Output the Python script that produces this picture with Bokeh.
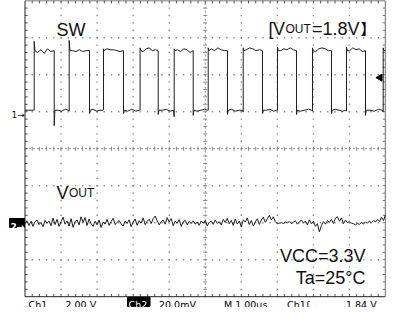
import numpy as np
from bokeh.plotting import figure
from bokeh.models import Range1d
from bokeh.core.properties import value
from bokeh.embed import file_html
from bokeh.resources import INLINE

# ---------------- data ----------------
# Ch1 (SW), 2.00 V/div, ground 1 div above centre; time 1.00 us/div
sw_rise_us = [0.255, 1.226, 2.178, 3.193, 4.139, 5.082, 6.053, 7.004, 7.975, 8.918, 9.936]
sw_fall_us = [0.810, 1.789, 2.732, 3.695, 4.666, 5.617, 6.588, 7.531, 8.502, 9.445]
sw_high_v = 3.30
sw_low_v = 0.08
sw_rise_peak_v = [3.80, 3.85, 3.40, 3.45, 3.40, 3.45, 3.45, 3.50, 3.45, 3.50, 3.45]
sw_fall_dip_v = [-0.75, -0.10, -0.10, -0.15, -0.20, -0.15, -0.10, -0.15, -0.10, -0.20]
sw_prerise_v = [0.00, -0.05, 0.05, 0.00, -0.35, 0.00, -0.10, 0.00, -0.05, -0.05, -0.10]
sw_high_ripple_v = [
    [-0.10, 0.05, -0.15, 0.10, -0.05],
    [0.00, -0.05, 0.05, -0.05, 0.00],
    [0.10, 0.05, 0.05, 0.00, -0.05],
    [-0.05, 0.10, 0.15, 0.00, 0.05],
    [0.05, -0.05, 0.10, 0.05, -0.10],
    [0.10, 0.00, 0.15, 0.05, 0.00],
    [0.05, 0.15, 0.10, 0.00, 0.05],
    [0.00, 0.10, 0.05, 0.15, 0.05],
    [-0.05, 0.10, 0.15, 0.10, 0.00],
    [0.00, 0.15, 0.05, 0.10, -0.05],
    [],
]
sw_low_ripple_v = [
    [0.00, -0.05, 0.05],
    [0.05, -0.05, 0.00],
    [-0.05, 0.05, -0.05],
    [0.00, 0.05, -0.05],
    [-0.05, 0.00, 0.05],
    [0.05, -0.05, 0.00],
    [0.00, 0.05, -0.05],
    [-0.05, 0.00, 0.05],
    [0.05, 0.00, -0.05],
    [0.00, -0.05, 0.05],
]
trigger_level_v = 1.84

# Ch2 (VOUT ripple), 20.0 mV/div, ground 2 div below centre
vout_mv = [
    -0.5, 1.0, -1.5, 0.8, -2.0, 0.5, 1.5, -1.0, 0.2, -2.2, 1.2, -0.3, 0.8, -1.6,
    2.5, -1.0, 1.8, -2.0, 0.5, 3.0, -0.8, 1.0, -1.8, 2.2, -2.5, 0.6, 1.5, -1.2, 3.2, 0.2, 2.8, -1.5, 2.0, -0.5,
    -2.0, 0.8, -1.2, 1.5, -2.6, 0.4, -0.8, 1.8, -1.5, 0.6, 2.4, -1.0, 0.2, 1.2, -0.6,
    -1.8, 0.9, -0.4, 1.6, -2.2, 0.3, 2.0, -1.4, 1.1, -0.2, 2.6, -1.0, 0.8, 1.9, -0.5, 2.2, 3.6, 1.0,
    -1.2, 0.6, 1.4, -0.8, 2.8, 0.4, 2.2, -1.6, 0.9, -0.3, 1.7, -2.0, 0.5, 1.2, -1.1, 0.7, -0.4, 1.0,
    -0.8, 0.4, -1.4, 0.9, -0.3, 1.2, -1.7, 0.2, 0.8, -0.9, 1.5, -0.4, 0.6, -1.2, 1.8, 0.1, 2.4, -0.6,
    1.3, -1.5, 2.0, -0.7, 0.9, -2.3, 1.6, 0.3, 2.6, -1.0, 1.2, -1.8, 0.5, 2.1, -0.9, 1.4, 3.0, 0.2, 2.2, 4.0, 1.5, 3.2,
    0.5, -0.6, -0.2, 0.0, -0.4, 0.3, -0.1, 0.6, -0.5, 0.2, 1.0, -0.8, 0.4, 1.5, -0.3,
    0.9, -1.2, 1.6, -0.6, 0.8, -2.0, -0.5, -5.0, -1.5, 0.6,
    -0.8, 1.2, 0.2, 1.8, -0.4, 2.5, 3.2, 0.8, 2.6, -0.5, 1.4, 0.0, 0.7, -0.3, -0.6,
    -1.2, -0.4, -0.9, 0.2, -0.6, 0.3, -0.2, 0.8, 0.1, 1.2,
    0.4, 1.8, 0.6, 3.0, 1.2, 4.2,
]

ch1_volts_per_div = 2.0
ch1_ground_div = 1.0
ch2_mv_per_div = 20.0
ch2_ground_div = -2.0
time_per_div_us = 1.0

status_labels = ["Ch1", "2.00 V", "Ch2", "20.0mV", "M 1.00\u00b5s", "Ch1", "\u0283", "1.84 V"]

# ---------------- layout helpers (page pixels -> divisions) ----------------
LEFT_PX, PXDIV_X = 32.5, 36.05
CENTER_PY, PXDIV_Y = 156.2, 37.0
W, H = 386, 307


def xd(px):
    return (px - LEFT_PX) / PXDIV_X


def yd(py):
    return (CENTER_PY - py) / PXDIV_Y


y0, y1 = yd(8 + H), yd(8)
p = figure(width=W, height=H, output_backend="svg", toolbar_location=None,
           title_location=None,
           x_range=Range1d(xd(8), xd(8 + W)), y_range=Range1d(y0, y1),
           x_axis_location=None, y_axis_location=None,
           min_border=0, min_border_left=0, min_border_right=0,
           min_border_top=0, min_border_bottom=0)
p.outline_line_color = None
p.xgrid.visible = False
p.ygrid.visible = False
p.background_fill_color = "white"
p.border_fill_color = "white"
p.extra_y_ranges = {
    "ch1": Range1d((y0 - ch1_ground_div) * ch1_volts_per_div, (y1 - ch1_ground_div) * ch1_volts_per_div),
    "ch2": Range1d((y0 - ch2_ground_div) * ch2_mv_per_div, (y1 - ch2_ground_div) * ch2_mv_per_div),
}

# ---------------- graticule ----------------
GRID = "#8a8a8a"
sub = np.arange(0.2, 10.0, 0.2)
suby = np.arange(-3.8, 4.0, 0.2)
dx, dy = [], []
for gx in [1, 2, 3, 4, 6, 7, 8, 9]:
    dx += [gx] * len(suby)
    dy += list(suby)
for gy in [-3, -2, -1, 1, 2, 3]:
    dx += list(sub)
    dy += [gy] * len(sub)
p.scatter(dx, dy, marker="square", size=1.4, color=GRID, line_color=None)

# centre lines with sub-division ticks
p.line([0, 10], [0, 0], line_color=GRID, line_width=1, line_dash="2 2")
p.line([5, 5], [-4, 4], line_color=GRID, line_width=1, line_dash="2 2")
p.segment(x0=sub, y0=-0.055, x1=sub, y1=0.055, line_color=GRID, line_width=1)
p.segment(x0=5 - 0.055, y0=suby, x1=5 + 0.055, y1=suby, line_color=GRID, line_width=1)

# border ticks
tk = 0.075
p.segment(x0=sub, y0=4, x1=sub, y1=4 - tk, line_color="#555", line_width=1)
p.segment(x0=sub, y0=-4, x1=sub, y1=-4 + tk, line_color="#555", line_width=1)
p.segment(x0=0, y0=suby, x1=tk, y1=suby, line_color="#555", line_width=1)
p.segment(x0=10, y0=suby, x1=10 - tk, y1=suby, line_color="#777", line_width=1)

# border
p.line([0, 0, 10], [4, -4, -4], line_color="#222", line_width=1)
p.line([0, 10], [4, 4], line_color="#222", line_width=1)
p.line([10, 10], [4, -4], line_color="#888", line_width=1.5)

# ---------------- SW trace ----------------
sw_t, sw_v = [0.0], [sw_low_v]
for i, r in enumerate(sw_rise_us):
    sw_t += [r - 0.02, r, r, r + 0.02]
    sw_v += [sw_low_v, sw_low_v + sw_prerise_v[i], sw_rise_peak_v[i], sw_high_v]
    end = sw_fall_us[i] if i < len(sw_fall_us) else 10.0 * time_per_div_us
    rip = sw_high_ripple_v[i]
    for k, dv in enumerate(rip):
        sw_t.append(r + (end - r) * (k + 1) / (len(rip) + 1))
        sw_v.append(sw_high_v + dv)
    if i < len(sw_fall_us):
        f = sw_fall_us[i]
        nxt = sw_rise_us[i + 1]
        sw_t += [f, f, f + 0.02]
        sw_v += [sw_high_v, sw_fall_dip_v[i], sw_low_v]
        lrip = sw_low_ripple_v[i]
        for k, dv in enumerate(lrip):
            sw_t.append(f + (nxt - f) * (k + 1) / (len(lrip) + 1))
            sw_v.append(sw_low_v + dv)
    else:
        sw_t.append(10.0 * time_per_div_us)
        sw_v.append(sw_high_v)
p.line(sw_t, sw_v, y_range_name="ch1", line_color="#1e1e1e", line_width=1)

# ---------------- VOUT trace ----------------
n = len(vout_mv)
vt = [10.0 * time_per_div_us * i / (n - 1) for i in range(n)]
p.line(vt, vout_mv, y_range_name="ch2", line_color="#1e1e1e", line_width=1)

# trigger level marker
p.scatter([xd(387.5)], [trigger_level_v], y_range_name="ch1", marker="triangle",
          angle=np.pi / 2, size=7, color="black")

# ---------------- texts ----------------
SANS = "Liberation Sans"


def label(px, py, txt, size, font=SANS, color="#111", style="normal", align="left"):
    p.text(x=[xd(px)], y=[yd(py)], text=[txt], text_font=value(font), text_font_size=size,
           text_color=color, text_font_style=style, text_align=align, text_baseline="alphabetic")


label(64, 37, "SW", "18px")
label(64, 200.5, "V", "18px")
label(76.5, 200.5, "OUT", "12px")

label(276, 36, "[", "18px")
label(280.5, 36, "V", "18px")
label(293, 36, "OUT", "12px")
label(319.5, 36, "=1.8V", "18px")
label(368, 35.5, "\u3011", "15px", font="Noto Sans CJK JP", color="black")

label(373, 263.5, "VCC=3.3V", "18px", align="right")
label(373, 285, "Ta=25\u00b0C", "18px", align="right")

# channel markers
label(19, 122, "1\u2192", "9px", font="DejaVu Sans")
p.quad(left=[xd(17)], right=[xd(32)], top=[yd(226)], bottom=[yd(235)], color="black")
label(18, 234, "2\u2192", "9px", font="DejaVu Sans", color="white", style="bold")

# status line
BF = "DejaVu Sans"
p.quad(left=[xd(135)], right=[xd(157.5)], top=[yd(304.8)], bottom=[yd(314)], color="black")
xs = [36, 73, 136, 166.5, 231.5, 294.5, 314, 353.5]
for x, t in zip(xs, status_labels):
    label(x, 312.3, t, "9.5px", font=BF, color="white" if t == "Ch2" else "#000")

open("out.html", "w").write(file_html(p, INLINE))
